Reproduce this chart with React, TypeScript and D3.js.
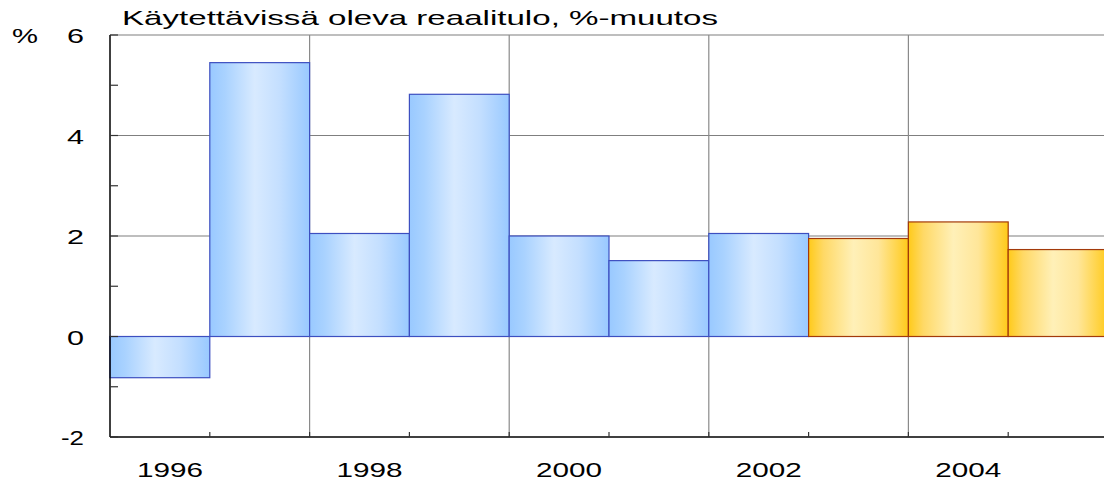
import React from "react";
import * as d3 from "d3";

const years = [1996, 1997, 1998, 1999, 2000, 2001, 2002, 2003, 2004, 2005];
const values = [-0.82, 5.45, 2.05, 4.82, 2.0, 1.51, 2.05, 1.95, 2.28, 1.73];
const forecastFrom = 2003;
const yMajorTicks = [-2, 0, 2, 4, 6];
const yMinorTicks = [-1, 1, 3, 5];
const xLabelYears = [1996, 1998, 2000, 2002, 2004];
const title = "Käytettävissä oleva reaalitulo, %-muutos";

const W = 1104;
const H = 484;
const left = 110;
const right = 1108;
const top = 35;
const bottom = 437;

export default function App() {
  const x = d3.scaleBand<number>().domain(years).range([left, right]).padding(0);
  const y = d3.scaleLinear().domain([-2, 6]).range([bottom, top]);
  const bw = x.bandwidth();
  const font = "'Liberation Sans', Arial, sans-serif";

  return (
    <svg width={W} height={H} style={{ position: "absolute", left: 0, top: 0 }}>
      <defs>
        <linearGradient id="gBlue" x1="0" x2="1" y1="0" y2="0">
          <stop offset="0" stopColor="#99c9ff" />
          <stop offset="0.15" stopColor="#a9d2ff" />
          <stop offset="0.45" stopColor="#d8eaff" />
          <stop offset="0.7" stopColor="#c4dfff" />
          <stop offset="1" stopColor="#99c9ff" />
        </linearGradient>
        <linearGradient id="gYellow" x1="0" x2="1" y1="0" y2="0">
          <stop offset="0" stopColor="#ffca1a" />
          <stop offset="0.15" stopColor="#ffd966" />
          <stop offset="0.45" stopColor="#fff0b8" />
          <stop offset="0.7" stopColor="#ffe699" />
          <stop offset="1" stopColor="#ffca1a" />
        </linearGradient>
      </defs>
      <rect x={0} y={0} width={W} height={H} fill="#ffffff" />
      {yMajorTicks.filter((t) => t > 0).map((t) => (
        <line key={"hg" + t} x1={left} x2={W} y1={y(t)} y2={y(t)} stroke="#7f7f7f" strokeWidth={1.2} />
      ))}
      {xLabelYears.slice(1).map((yr) => (
        <line key={"vg" + yr} x1={x(yr)!} x2={x(yr)!} y1={top} y2={bottom} stroke="#8a8a8a" strokeWidth={1.2} />
      ))}
      {years.map((yr, i) => {
        const v = values[i];
        const x0 = x(yr)!;
        const y0 = y(Math.max(0, v));
        const h = Math.abs(y(v) - y(0));
        const isF = yr >= forecastFrom;
        return (
          <rect
            key={"b" + yr}
            x={x0}
            y={y0}
            width={bw}
            height={h}
            fill={isF ? "url(#gYellow)" : "url(#gBlue)"}
            stroke={isF ? "#a33a0a" : "#3d4fc0"}
            strokeWidth={1.2}
          />
        );
      })}
      <line x1={left} x2={left} y1={top} y2={bottom} stroke="#000" strokeWidth={1.5} />
      <line x1={left} x2={W} y1={bottom} y2={bottom} stroke="#000" strokeWidth={1.5} />
      {yMajorTicks.map((t) => (
        <line key={"yt" + t} x1={left} x2={left + 8} y1={y(t)} y2={y(t)} stroke="#333" strokeWidth={1.2} />
      ))}
      {yMinorTicks.map((t) => (
        <line key={"ym" + t} x1={left} x2={left + 8} y1={y(t)} y2={y(t)} stroke="#333" strokeWidth={1.2} />
      ))}
      {years.slice(1).map((yr) => (
        <line key={"xt" + yr} x1={x(yr)!} x2={x(yr)!} y1={bottom} y2={bottom - 5} stroke="#333" strokeWidth={1.2} />
      ))}
      {yMajorTicks.map((t) => {
        const s = String(t);
        const len = s.length > 1 ? 23 : 17;
        return (
          <text key={"yl" + t} x={84 - len} y={y(t) + 8} textLength={len} lengthAdjust="spacingAndGlyphs"
            fontFamily={font} fontSize={20} fill="#000">
            {s}
          </text>
        );
      })}
      {xLabelYears.map((yr) => (
        <text key={"xl" + yr} x={x(yr)! + bw / 2 - 23} y={477} textLength={66} lengthAdjust="spacingAndGlyphs"
          fontFamily={font} fontSize={21} fill="#000">
          {yr}
        </text>
      ))}
      <text x={12} y={43} textLength={26} lengthAdjust="spacingAndGlyphs" fontFamily={font} fontSize={20} fill="#000">%</text>
      <text x={122} y={25} textLength={596} lengthAdjust="spacingAndGlyphs" fontFamily={font} fontSize={21} fill="#000">{title}</text>
    </svg>
  );
}
